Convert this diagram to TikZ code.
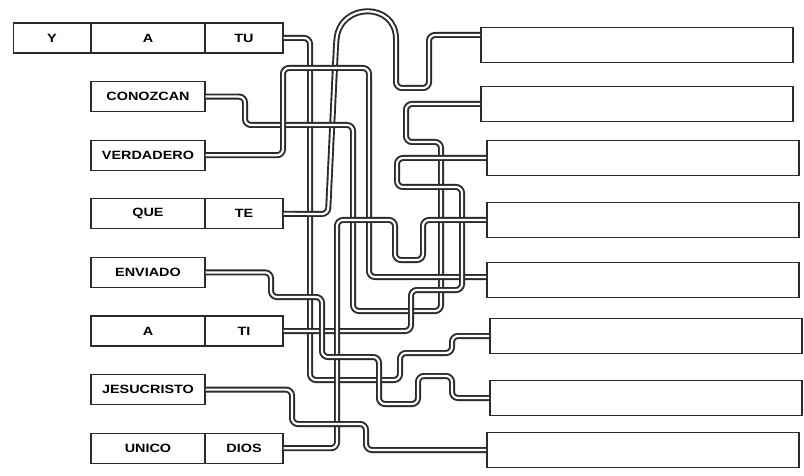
\documentclass[tikz,border=0pt]{standalone}
\usepackage{fontspec}
\newfontfamily\boxfont[FakeStretch=1.2]{Liberation Sans}
\usetikzlibrary{positioning}
\definecolor{ink}{HTML}{2A2A2A}

\begin{document}
\begin{tikzpicture}[x=1pt,y=-1pt,node distance=58.6pt and 96pt,on grid,
	word/.style={draw=ink,line width=1.2pt,minimum height=30pt,inner sep=0pt,font=\boxfont\bfseries\fontsize{12pt}{14pt}\selectfont},
	blank/.style={draw=ink,line width=1.8pt,minimum width=312pt,minimum height=35pt,inner sep=0pt},
	pipe/.style={draw=ink,line width=1.9pt,double=white,double distance=2.2pt,rounded corners=6pt}]
			\useasboundingbox[fill=white] (0,0) rectangle (804,476);
			\node[word,minimum width=114pt] (a_1) at (148,38) {A};
			\node[word,minimum width=77pt] (y) [left=of a_1] {Y};
			\node[word,minimum width=78pt] (tu) [right=of a_1] {TU};
			\node[word,minimum width=114pt] (con) [below=of a_1] {CONOZCAN};
			\node[word,minimum width=114pt] (ver) [below=of con] {VERDADERO};
			\node[word,minimum width=114pt] (que) [below=of ver] {QUE};
			\node[word,minimum width=78pt] (te) [right=of que] {TE};
			\node[word,minimum width=114pt] (env) [below=of que] {ENVIADO};
			\node[word,minimum width=114pt] (a_2) [below=of env] {A};
			\node[word,minimum width=78pt] (ti) [right=of a_2] {TI};
			\node[word,minimum width=114pt] (jes) [below=of a_2] {JESUCRISTO};
			\node[word,minimum width=114pt] (uni) [below=of jes] {UNICO};
			\node[word,minimum width=78pt] (dios) [right=of uni] {DIOS};

			\node[blank] (r_1) at (637,45) {};
			\node[blank] (r_2) at (637,104) {};
			\node[blank] (r_3) at (643,158) {};
			\node[blank] (r_4) at (643,220) {};
			\node[blank] (r_5) at (643,280) {};
			\node[blank] (r_6) at (646,336) {};
			\node[blank] (r_7) at (646,398) {};
			\node[blank] (r_8) at (643,450) {};

			\draw[pipe] (tu.east) -| (310,380) -| (400,353) -| (452,336) -- (r_6.west);
			\draw[pipe] (te.east) -- (328,214) -- (336,45) .. controls (340,2) and (396,2) .. (396,45)
				-- (396,88) -| (429,35) coordinate (k_1) -- (k_1 -| r_1.west);
			\draw[pipe] (con.east) -| (245,125) -| (353,311) -| (441,142) -| (406,104) -- (r_2.west);
			\draw[pipe] (ver.east) -| (283,68) -| (369,277) coordinate (k_5) -- (k_5 -| r_5.west);
			\draw[pipe] (ti.east) -| (411,290) -| (462,187) -| (397,158) -- (r_3.west);
			\draw[pipe] (dios.east) -| (337,220) -| (395,260) -| (423,220) -- (r_4.west);
			\draw[pipe] (env.east) -| (271,297) -| (322,357) -| (379,404) -| (418,376) -| (452,398) -- (r_7.west);
			\draw[pipe] (jes.east) -| (292,424) -| (366,450) -- (r_8.west);
		\end{tikzpicture}
\end{document}
